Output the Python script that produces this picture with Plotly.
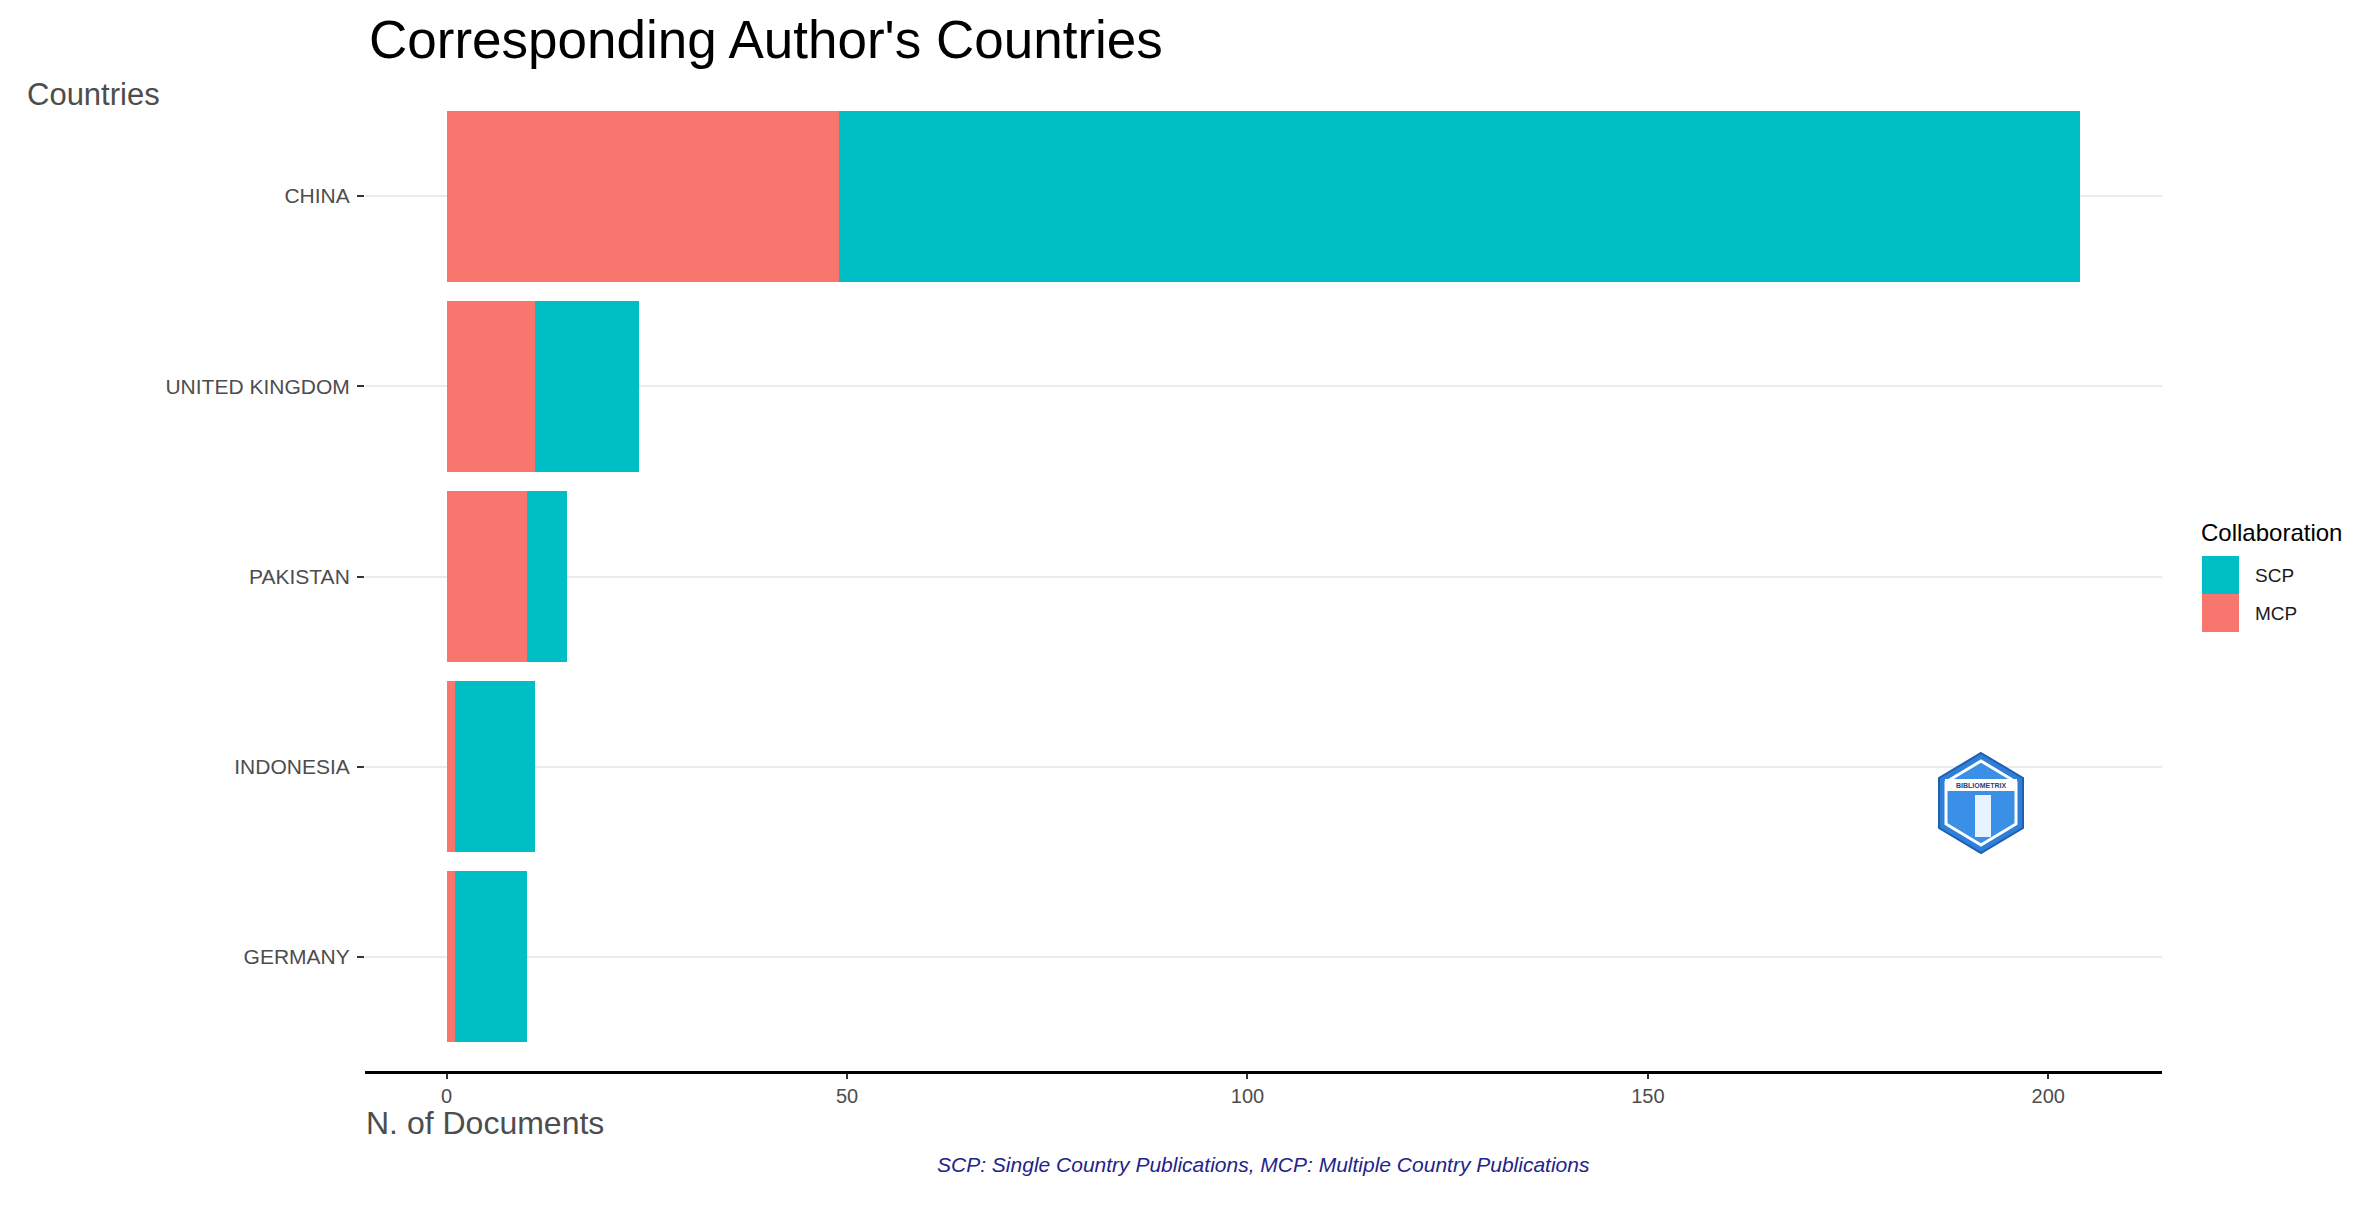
import plotly.graph_objects as go

# ---- data ----
countries = ["CHINA", "UNITED KINGDOM", "PAKISTAN", "INDONESIA", "GERMANY"]
scp = [155, 13, 5, 10, 9]
mcp = [49, 11, 10, 1, 1]
series_names = ["SCP", "MCP"]
series_colors = {"SCP": "#00BFC4", "MCP": "#F8766D"}
x_ticks = [0, 50, 100, 150, 200]

title_text = "Corresponding Author's Countries"
y_title = "Countries"
x_title = "N. of Documents"
legend_title = "Collaboration"
caption = "SCP: Single Country Publications, MCP: Multiple Country Publications"

# ---- layout geometry (pixels) ----
W, H = 2377, 1212
L, R, T, B = 365, 2162, 82, 1071
FONT = "Liberation Sans, Arial, Helvetica, sans-serif"


def px(X):
    return (X - L) / (R - L)


def py(Y):
    return (B - Y) / (B - T)


fig = go.Figure()
fig.add_trace(go.Bar(
    y=countries, x=mcp, name="MCP", orientation="h", width=0.9,
    marker=dict(color=series_colors["MCP"], line=dict(width=0)), showlegend=False))
fig.add_trace(go.Bar(
    y=countries, x=scp, name="SCP", orientation="h", width=0.9,
    marker=dict(color=series_colors["SCP"], line=dict(width=0)), showlegend=False))

total_max = max(a + b for a, b in zip(scp, mcp))
pad = total_max * 0.05

fig.update_layout(
    width=W, height=H, autosize=False,
    margin=dict(l=L, r=W - R, t=T, b=H - B, pad=0),
    barmode="stack",
    plot_bgcolor="white", paper_bgcolor="white",
    font=dict(family=FONT, color="#4d4d4d"),
    xaxis=dict(
        range=[-pad, total_max + pad], tickvals=x_ticks,
        showgrid=False, zeroline=False,
        showline=True, linecolor="black", linewidth=3,
        ticks="outside", ticklen=5, tickwidth=1.5, tickcolor="#333333",
        tickfont=dict(size=20, color="#4d4d4d", family=FONT),
    ),
    yaxis=dict(
        categoryorder="array", categoryarray=countries[::-1],
        range=[-0.6, len(countries) - 0.4],
        showgrid=True, gridcolor="#ebebeb", gridwidth=1.5,
        zeroline=False, showline=False,
        ticks="outside", ticklen=7, tickwidth=1.5, tickcolor="#333333",
        ticklabelstandoff=3,
        tickfont=dict(size=21, color="#4d4d4d", family=FONT),
    ),
    showlegend=False,
)

annotations = [
    dict(text=title_text, x=px(367), y=py(40), xanchor="left", yanchor="middle",
         font=dict(size=53, color="black", family=FONT)),
    dict(text=y_title, x=px(25), y=py(94), xanchor="left", yanchor="middle",
         font=dict(size=31, color="#4d4d4d", family=FONT)),
    dict(text=x_title, x=px(364), y=py(1123), xanchor="left", yanchor="middle",
         font=dict(size=32, color="#4d4d4d", family=FONT)),
    dict(text="<i>" + caption + "</i>", x=0.5, y=py(1164), xanchor="center", yanchor="middle",
         font=dict(size=21, color="#23238a", family=FONT)),
    dict(text=legend_title, x=px(2199), y=py(532), xanchor="left", yanchor="middle",
         font=dict(size=24, color="black", family=FONT)),
]

shapes = []
key_top = 556
key_h = 38
for i, name in enumerate(series_names):
    y0 = key_top + i * key_h
    shapes.append(dict(type="rect", xref="paper", yref="paper",
                       x0=px(2202), x1=px(2239), y0=py(y0 + key_h), y1=py(y0),
                       fillcolor=series_colors[name], line=dict(width=0)))
    annotations.append(dict(text=name, x=px(2253), y=py(y0 + key_h / 2), xanchor="left",
                            yanchor="middle", font=dict(size=19, color="#1a1a1a", family=FONT)))

# decorative hexagon logo
cx, cy = 1981, 803


def hexpath(hw, hh):
    pts = [(cx, cy - hh), (cx + hw, cy - hh / 2), (cx + hw, cy + hh / 2),
           (cx, cy + hh), (cx - hw, cy + hh / 2), (cx - hw, cy - hh / 2)]
    return "M " + " L ".join(f"{px(a):.5f},{py(b):.5f}" for a, b in pts) + " Z"


shapes.append(dict(type="path", xref="paper", yref="paper", path=hexpath(42, 50),
                   fillcolor="#2d7fd8", line=dict(color="#1f5fb0", width=2)))
shapes.append(dict(type="path", xref="paper", yref="paper", path=hexpath(35, 42),
                   fillcolor="#3a8fe6", line=dict(color="white", width=3)))
shapes.append(dict(type="rect", xref="paper", yref="paper",
                   x0=px(cx - 36), x1=px(cx + 36), y0=py(cy - 12), y1=py(cy - 24),
                   fillcolor="white", line=dict(width=0)))
shapes.append(dict(type="rect", xref="paper", yref="paper",
                   x0=px(cx - 6), x1=px(cx + 10), y0=py(cy + 34), y1=py(cy - 8),
                   fillcolor="#e8f3ff", line=dict(width=0)))
annotations.append(dict(text="<b>BIBLIOMETRIX</b>", x=px(cx), y=py(cy - 18), xanchor="center",
                        yanchor="middle", font=dict(size=7, color="#1f3f80", family=FONT)))

for a in annotations:
    a.setdefault("xref", "paper")
    a.setdefault("yref", "paper")
    a.setdefault("showarrow", False)

fig.update_layout(annotations=annotations, shapes=shapes)

fig.write_html("out.html", config={"displayModeBar": False},
               post_script="document.body.style.margin='0';document.body.style.overflow='hidden';")
